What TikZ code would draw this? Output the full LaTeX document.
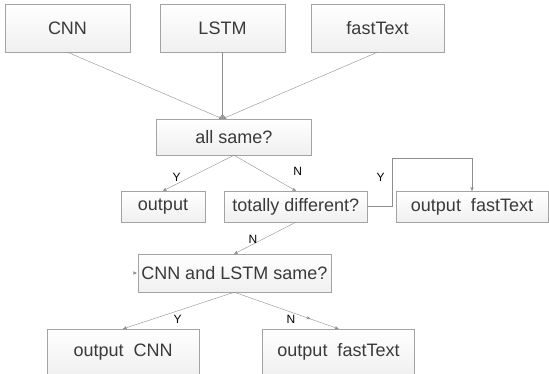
\documentclass[tikz,border=0pt]{standalone}
\usepackage{fontspec}
\setmainfont{Liberation Sans}
\usetikzlibrary{arrows,positioning,decorations.markings}
\definecolor{boxline}{HTML}{A3A3A3}
\definecolor{arrline}{HTML}{8E8E8E}
\definecolor{boxtext}{HTML}{3A3A3A}
\tikzset{
>=stealth',
  box/.style={
    rectangle,
    top color=white,
    bottom color=black!6,
    draw=boxline,
    text=boxtext,
    inner sep=0pt,
    font=\fontsize{18}{20}\selectfont},
  line/.style={draw=arrline, ->},
  yn/.style={font=\fontsize{12}{14}\selectfont, text=black, inner sep=0pt},
  midtip/.style={postaction={decorate}, decoration={markings,
    mark=at position #1 with {\arrow[arrline]{>}}}},
}

\begin{document}
\begin{tikzpicture}[x=1pt, y=-1pt]
    \useasboundingbox (0,0) rectangle (549,373);

	% models
	\node[box, minimum width=125pt, minimum height=48pt] (cnn) at (67.5,28) {CNN};
	\node[box, minimum width=125pt, minimum height=48pt] (lstm) at (222.5,28) {LSTM};
	\node[box, minimum width=133pt, minimum height=48pt] (fast) at (377.5,28) {fastText};

	% first check
	\node[box, minimum width=155pt, minimum height=36pt] (same) at (234,137) {all same?};
	\coordinate (meet) at (lstm.south |- same.north);
	\draw[line] (cnn.south) -- (meet);
	\draw[line] (lstm.south) -- (meet);
	\draw[line] (fast.south) -- (meet);

	\node[box, minimum width=84pt, minimum height=31pt] (out) at (163,206.5) {output};
	\node[box, minimum width=143pt, minimum height=31pt] (diff) at (295.8,206.5) {totally different?};
	\node[box, minimum width=152pt, minimum height=31pt] (outft) at (472,206.5) {output~~fastText};

	\draw[line] (same.south) -- (out.north);
	\draw[line] (same.south) -- (diff.north);
	\node[yn] (ys) at (176.7,177.7) {Y};
	\node[yn] (ns) at (297.7,171.7) {N};

	\draw[line] (diff.east) -- ++(25,0) -- ++(0,-48) -| (outft.north);
	\node[yn] (yd) at (380.7,177.7) {Y};

	% second check
	\node[box, minimum width=193pt, minimum height=38pt] (cl) at (234.3,273) {CNN and LSTM same?};
	\draw[line] (diff.south) -- (cl.north);
	\node[yn] (nd) at (253,239) {N};
	\draw[line] ([xshift=-3pt]cl.west) -- ([xshift=-1pt]cl.west);

	\node[box, minimum width=152pt, minimum height=46pt] (outcnn) at (123.2,352) {output~~CNN};
	\node[box, minimum width=152pt, minimum height=46pt] (outft2) at (338.5,352) {output~~fastText};

	\draw[line] (cl.south) -- (outcnn.north);
	\draw[line, midtip=0.73] (cl.south) -- (outft2.north);
	\node[yn] (yc) at (177.7,319) {Y};
	\node[yn] (nc) at (291,319) {N};

\end{tikzpicture}
\end{document}
